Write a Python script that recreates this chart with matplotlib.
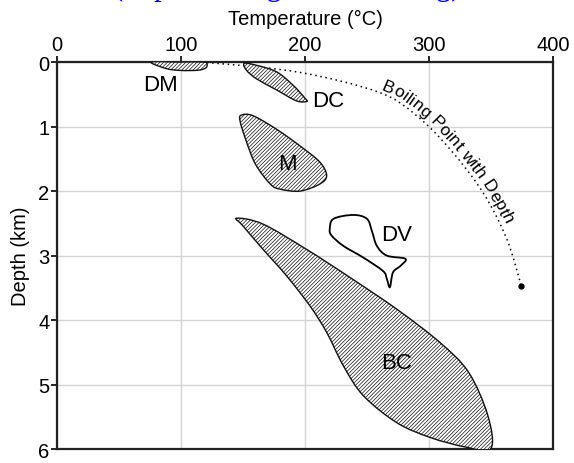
import numpy as np
import matplotlib
matplotlib.use("Agg")
import matplotlib.pyplot as plt
from matplotlib.path import Path
from matplotlib.patches import PathPatch
import matplotlib.transforms as mtransforms

plt.rcParams["font.family"] = ["Liberation Sans", "DejaVu Sans"]
plt.rcParams["hatch.linewidth"] = 0.5

# === Data (temperature in °C, depth in km) ===
dm_temp = [76, 88, 100, 114, 120, 121, 118, 97]
dm_depth = [0.0, 0.10, 0.13, 0.125, 0.09, 0.03, 0.0, 0.0]

dc_temp = [151, 161, 177, 190.5, 200, 201.4, 193, 177, 161, 153]
dc_depth = [0.02, 0.05, 0.15, 0.36, 0.56, 0.61, 0.60, 0.43, 0.26, 0.13]

m_temp = [149, 158, 177, 196, 212, 217.5, 212, 196, 180, 172, 160, 152, 147.5]
m_depth = [0.82, 0.83, 1.04, 1.30, 1.55, 1.76, 1.89, 2.0, 1.97, 1.89, 1.58, 1.19, 0.90]

dv_temp = [220, 223, 239, 250, 254, 258, 266, 281, 277, 271, 268.5, 266, 263, 247, 231, 221.5]
dv_depth = [2.59, 2.43, 2.37, 2.43, 2.62, 2.85, 3.0, 3.05, 3.16, 3.26, 3.49, 3.36, 3.24, 3.03, 2.85, 2.69]

bc_temp = [145, 166, 201, 234, 274, 309, 332, 347.5, 350, 330, 301, 274, 247, 231, 217.5, 204, 185, 166, 150]
bc_depth = [2.42, 2.51, 2.90, 3.31, 3.83, 4.35, 4.81, 5.48, 5.99, 5.97, 5.82, 5.59, 5.17, 4.71, 4.19, 3.78, 3.31, 2.90, 2.54]

boil_temp = [100, 126, 196, 260, 290, 317, 343.5, 362.7, 374.5]
boil_depth = [0.0, 0.015, 0.16, 0.47, 0.83, 1.35, 2.02, 2.74, 3.47]

labels = ["DM", "DC", "M", "DV", "BC"]
label_temp = [83.5, 219, 186, 274, 274]
label_depth = [0.34, 0.60, 1.57, 2.67, 4.65]


def smooth_path(xs, ys, closed=True):
    # Catmull-Rom through the read points, drawn as cubic Bezier segments
    p = np.column_stack([xs, ys]).astype(float)
    n = len(p)
    verts = [p[0]]
    codes = [Path.MOVETO]
    segs = n if closed else n - 1
    for i in range(segs):
        if closed:
            p0, p1, p2, p3 = p[(i - 1) % n], p[i], p[(i + 1) % n], p[(i + 2) % n]
        else:
            p0 = p[max(i - 1, 0)]
            p1, p2 = p[i], p[i + 1]
            p3 = p[min(i + 2, n - 1)]
        verts += [p1 + (p2 - p0) / 6, p2 - (p3 - p1) / 6, p2]
        codes += [Path.CURVE4] * 3
    if closed:
        verts.append(p[0])
        codes.append(Path.CLOSEPOLY)
    return Path(verts, codes)


fig = plt.figure(figsize=(5.74, 4.64), dpi=100)
ax = fig.add_axes([0.0993, 0.030, 0.864, 0.834])

ax.set_xlim(0, 400)
ax.set_ylim(6, 0)
ax.set_xticks([0, 100, 200, 300, 400])
ax.set_yticks([0, 1, 2, 3, 4, 5, 6])
ax.xaxis.tick_top()
ax.xaxis.set_label_position("top")
ax.set_xlabel("Temperature (°C)", fontsize=14.5, labelpad=8)
ax.set_ylabel("Depth (km)", fontsize=14.5, labelpad=6)
ax.tick_params(direction="out", length=4, width=1.2, labelsize=14.5, pad=1.5)
ax.grid(True, color="#d4d4d4", linewidth=1.0)
ax.set_axisbelow(True)
for sp in ax.spines.values():
    sp.set_linewidth(1.6)
    sp.set_color("#222222")

# boiling point curve
boil_path = smooth_path(boil_temp, boil_depth, closed=False)
ax.add_patch(PathPatch(boil_path, facecolor="none", edgecolor="black",
                       linewidth=1.1, linestyle=(0, (1, 2.4)), zorder=2))
ax.plot(boil_temp[-1], boil_depth[-1], "o", color="black", markersize=3.5, zorder=3)

# hatched zones
for xs, ys in [(dm_temp, dm_depth), (dc_temp, dc_depth), (m_temp, m_depth), (bc_temp, bc_depth)]:
    ax.add_patch(PathPatch(smooth_path(xs, ys), facecolor="white", edgecolor="#111111",
                           hatch="/////////", linewidth=1.0, zorder=4))
ax.add_patch(PathPatch(smooth_path(dv_temp, dv_depth), facecolor="none",
                       edgecolor="black", linewidth=1.3, zorder=4))

for name, tx, ty in zip(labels, label_temp, label_depth):
    ax.text(tx, ty, name, fontsize=16, ha="center", va="center", zorder=5)

# curved label along the boiling curve
fig.canvas.draw()
renderer = fig.canvas.get_renderer()
poly = boil_path.transformed(ax.transData).to_polygons(closed_only=False)[0]
seg = np.diff(poly, axis=0)
arc = np.concatenate([[0], np.cumsum(np.hypot(seg[:, 0], seg[:, 1]))])
start_y = ax.transData.transform((0, 0.47))[1]
s = np.interp(-start_y, -poly[:, 1], arc)
offset = 4.0
for ch in "Boiling Point with Depth":
    t = fig.text(0, 0, ch, fontsize=12.5)
    w = t.get_window_extent(renderer).width
    t.remove()
    sc = s + w / 2
    x = np.interp(sc, arc, poly[:, 0])
    y = np.interp(sc, arc, poly[:, 1])
    x2 = np.interp(sc + 2, arc, poly[:, 0]) - np.interp(sc - 2, arc, poly[:, 0])
    y2 = np.interp(sc + 2, arc, poly[:, 1]) - np.interp(sc - 2, arc, poly[:, 1])
    ang = np.arctan2(y2, x2)
    nx, ny = -np.sin(ang), np.cos(ang)
    fig.text(x + nx * offset, y + ny * offset, ch, fontsize=12.5, rotation=np.degrees(ang),
             rotation_mode="anchor", ha="center", va="baseline",
             transform=mtransforms.IdentityTransform())
    s += w

# clipped caption above the figure
fig.text(0.5, 1.010, "(http://www.geothermal.org)", color="blue",
         family="Liberation Serif", fontsize=22, ha="center", va="baseline")

fig.savefig("out.png", dpi=100)
